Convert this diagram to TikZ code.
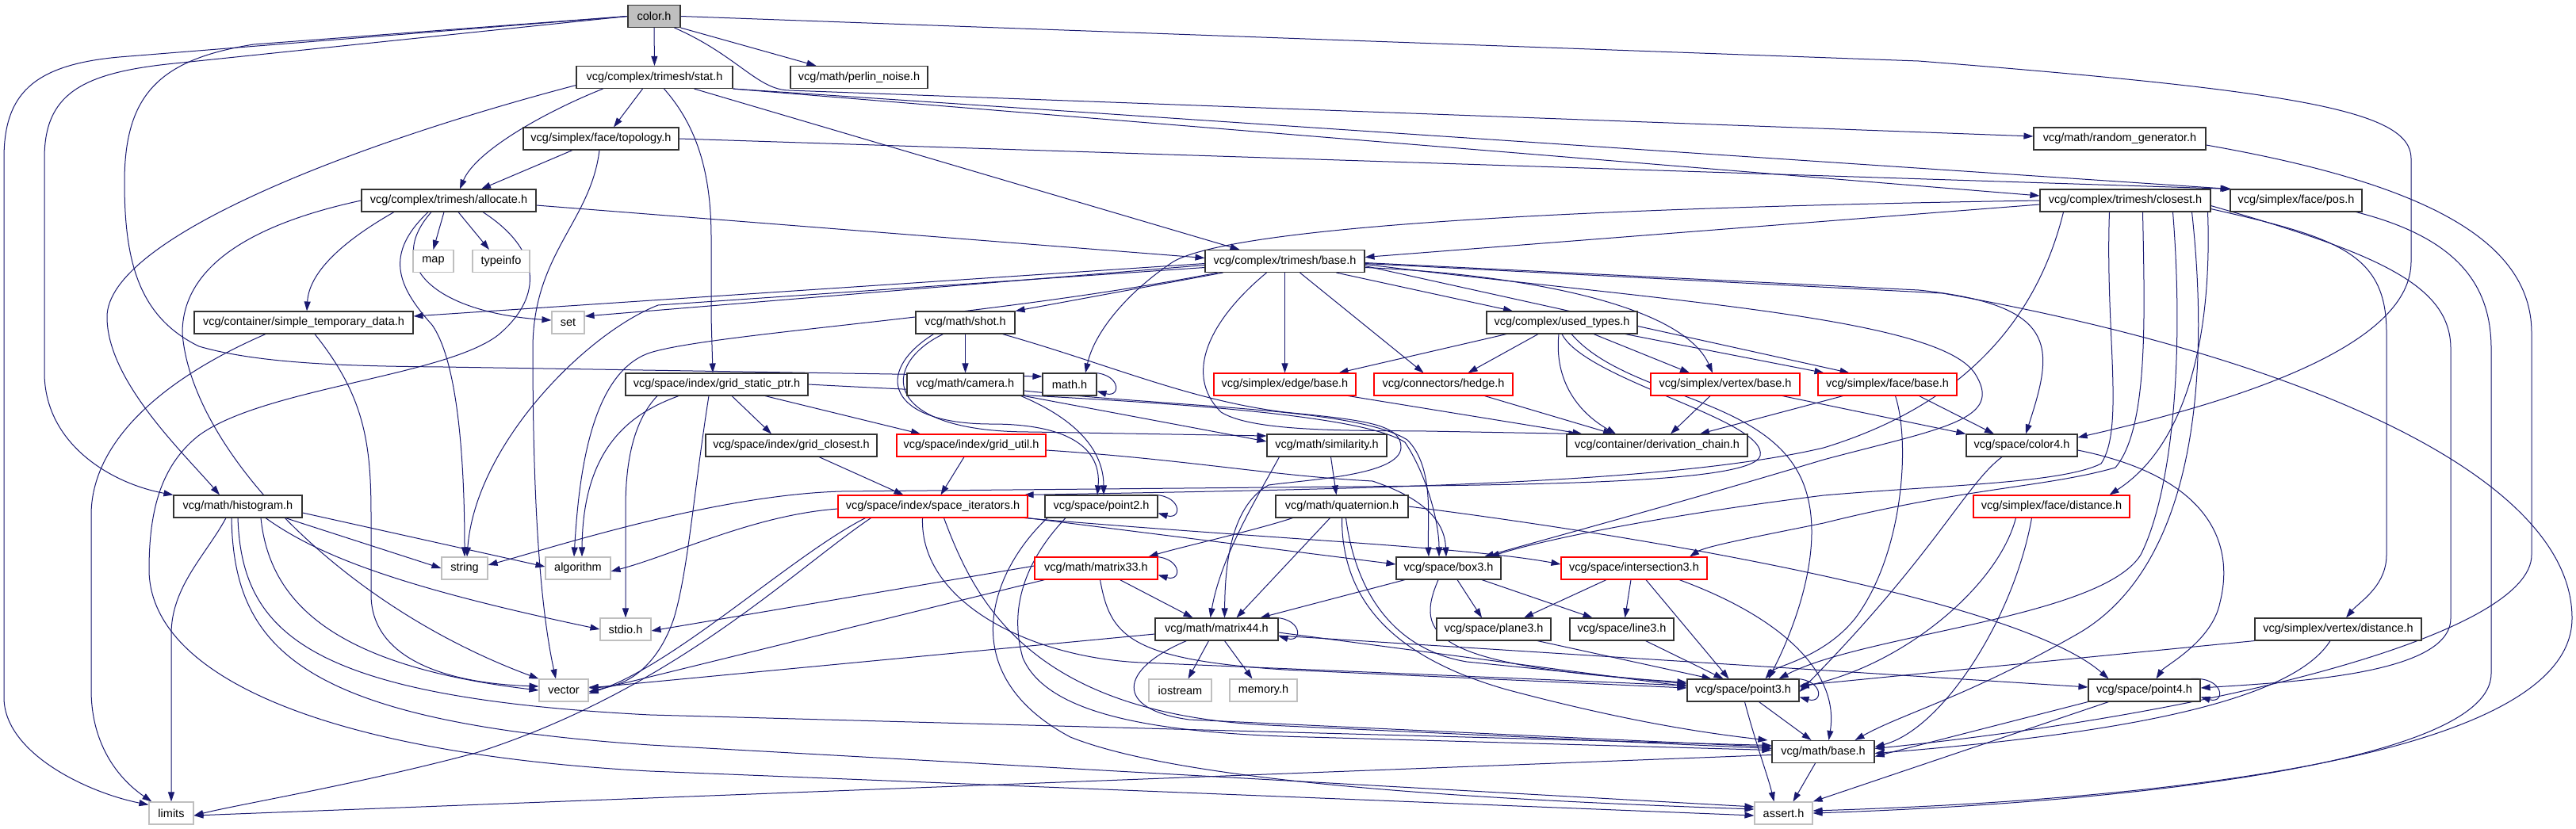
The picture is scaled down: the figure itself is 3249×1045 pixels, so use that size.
\documentclass[tikz,border=0pt]{standalone}
\usepackage{fontspec}
\setmainfont{Liberation Sans}
\usetikzlibrary{arrows.meta}
\definecolor{mblue}{HTML}{191970}
\definecolor{grline}{HTML}{BFBFBF}
\definecolor{grfill}{HTML}{BFBFBF}
\definecolor{bdr}{HTML}{333333}
\newcommand{\dgfont}{\fontsize{14.5}{17}\selectfont}
\pgfdeclarelayer{bglayer}
\pgfdeclarelayer{edgelayer}
\pgfsetlayers{bglayer,edgelayer,main}
\tikzset{
  nd/.style={rectangle, draw=bdr, line width=1.1pt, fill=white, minimum height=28, inner sep=0pt, text=black, font=\dgfont},
  sysn/.style={nd, draw=grline},
  redn/.style={nd, draw=red},
  edg/.style={draw=mblue, line width=1pt, -{Triangle[length=12pt,width=8pt]}},
}
\begin{document}
\begin{tikzpicture}[x=1pt,y=-1pt]
\begin{pgfonlayer}{bglayer}
\fill[white] (0,0) rectangle (3249,1045);
\end{pgfonlayer}
\path[use as bounding box] (0,0) rectangle (3249,1045);
% nodes
\node[nd,fill=grfill,minimum width=66] (color) at (825,20.5) {color.h};
\node[nd,minimum width=197] (stat) at (825.5,97.5) {vcg/complex/trimesh/stat.h};
\node[nd,minimum width=173] (perlin) at (1083.5,97.5) {vcg/math/perlin\_noise.h};
\node[nd,minimum width=196] (topo) at (758,175) {vcg/simplex/face/topology.h};
\node[nd,minimum width=217] (rand) at (2673.5,175) {vcg/math/random\_generator.h};
\node[nd,minimum width=220] (alloc) at (566,253) {vcg/complex/trimesh/allocate.h};
\node[nd,minimum width=215] (closest) at (2680.5,253) {vcg/complex/trimesh/closest.h};
\node[nd,minimum width=166] (pos) at (2896,253) {vcg/simplex/face/pos.h};
\node[sysn,minimum width=51] (map) at (546.5,329.5) {map};
\node[sysn,minimum width=72] (typeinfo) at (632,329.5) {typeinfo};
\node[nd,minimum width=201] (tbase) at (1620.5,329.5) {vcg/complex/trimesh/base.h};
\node[nd,minimum width=276] (std) at (383,407) {vcg/container/simple\_temporary\_data.h};
\node[sysn,minimum width=41] (set) at (716.5,407) {set};
\node[nd,minimum width=125] (shot) at (1217.5,407) {vcg/math/shot.h};
\node[nd,minimum width=190] (used) at (1970,407) {vcg/complex/used\_types.h};
\node[nd,minimum width=230] (gsp) at (904,485) {vcg/space/index/grid\_static\_ptr.h};
\node[nd,minimum width=147] (camera) at (1217.5,485) {vcg/math/camera.h};
\node[nd,minimum width=68] (mathh) at (1349,485) {math.h};
\node[redn,minimum width=179] (ebase) at (1620.5,485) {vcg/simplex/edge/base.h};
\node[redn,minimum width=175] (hedge) at (1820.5,485) {vcg/connectors/hedge.h};
\node[redn,minimum width=188] (vbase) at (2176,485) {vcg/simplex/vertex/base.h};
\node[redn,minimum width=175] (fbase) at (2380.5,485) {vcg/simplex/face/base.h};
\node[nd,minimum width=216] (gclosest) at (998,562) {vcg/space/index/grid\_closest.h};
\node[redn,minimum width=188] (gutil) at (1225,562) {vcg/space/index/grid\_util.h};
\node[nd,minimum width=151] (sim) at (1673.5,562) {vcg/math/similarity.h};
\node[nd,minimum width=228] (dchain) at (2090,562) {vcg/container/derivation\_chain.h};
\node[nd,minimum width=140] (color4) at (2550,562) {vcg/space/color4.h};
\node[nd,minimum width=162] (hist) at (300,639) {vcg/math/histogram.h};
\node[redn,minimum width=239] (siter) at (1176.5,639) {vcg/space/index/space\_iterators.h};
\node[nd,minimum width=142] (point2) at (1389,639) {vcg/space/point2.h};
\node[nd,minimum width=167] (quat) at (1692.5,639) {vcg/math/quaternion.h};
\node[redn,minimum width=197] (fdist) at (2587.5,639) {vcg/simplex/face/distance.h};
\node[sysn,minimum width=58] (string) at (586,717) {string};
\node[sysn,minimum width=82] (algorithm) at (729,717) {algorithm};
\node[redn,minimum width=155] (m33) at (1382.5,717) {vcg/math/matrix33.h};
\node[nd,minimum width=132] (box3) at (1827,717) {vcg/space/box3.h};
\node[redn,minimum width=184] (inter3) at (2061,717) {vcg/space/intersection3.h};
\node[sysn,minimum width=64] (stdio) at (789,794) {stdio.h};
\node[nd,minimum width=155] (m44) at (1534.5,794) {vcg/math/matrix44.h};
\node[nd,minimum width=144] (plane3) at (1884,794) {vcg/space/plane3.h};
\node[nd,minimum width=131] (line3) at (2045.5,794) {vcg/space/line3.h};
\node[nd,minimum width=210] (vdist) at (2949,794) {vcg/simplex/vertex/distance.h};
\node[sysn,minimum width=62] (vector) at (711,871) {vector};
\node[sysn,minimum width=79] (iostream) at (1488.5,871) {iostream};
\node[sysn,minimum width=85] (memory) at (1593.5,871) {memory.h};
\node[nd,minimum width=141] (point3) at (2198.5,871) {vcg/space/point3.h};
\node[nd,minimum width=141] (point4) at (2704.5,871) {vcg/space/point4.h};
\node[nd,minimum width=129] (mbase) at (2299.5,948.5) {vcg/math/base.h};
\node[sysn,minimum width=56] (limits) at (216,1026) {limits};
\node[sysn,minimum width=73] (assert) at (2249.5,1026) {assert.h};

\begin{pgfonlayer}{edgelayer}
% color.h
\draw[edg] (color.south) -- (stat.north);
\draw[edg] (color.south east) -- ([xshift=33]perlin.north west);
\draw[edg] ([xshift=-8]color.south east) .. controls (930,70) and (955,113) .. (995,114) -- ([yshift=3]rand.west);
\draw[edg] (color.east) -- (2420,77) .. controls (2900,115) and (3041,140) .. (3041,200) -- (3041,330) .. controls (3041,430) and (2850,500) .. ([yshift=10]color4.east);
\draw[edg] (color.west) -- (150,72) .. controls (40,82) and (5,120) .. (5,200) -- (5,880) .. controls (5,950) and (110,1000) .. ([yshift=-4]limits.north west);
\draw[edg] (color.west) -- (220,80) .. controls (100,92) and (56,120) .. (56,200) -- (56,470) .. controls (56,560) and (140,610) .. (hist.north west);
\draw[edg] (color.west) -- (320,56) .. controls (200,75) and (157,120) .. (157,230) .. controls (157,330) and (175,400) .. (251,437) .. controls (330,460) and (450,462) .. (560,463) -- ([yshift=10]mathh.west);
% stat.h
\draw[edg] ([xshift=-15]stat.south) -- ([xshift=16]topo.north);
\draw[edg] ([xshift=-65]stat.south) .. controls (690,140) and (600,190) .. ([xshift=14]alloc.north);
\draw[edg] ([yshift=-10]stat.west) .. controls (450,180) and (135,300) .. (135,400) .. controls (135,480) and (230,570) .. ([xshift=-23]hist.north);
\draw[edg] ([xshift=12]stat.south) .. controls (880,160) and (897,220) .. (897,300) -- (897,400) -- ([xshift=-5]gsp.north);
\draw[edg] ([xshift=50]stat.south) -- ([xshift=-57]tbase.north);
\draw[edg] (stat.south east) -- ([yshift=6]closest.west);
\draw[edg] (stat.south east) -- (pos.north west);
% topology.h
\draw[edg] ([xshift=-36]topo.south) -- ([xshift=41]alloc.north);
\draw[edg] (topo.east) -- ([xshift=2]pos.north west);
\draw[edg] ([xshift=-2]topo.south) .. controls (745,280) and (672,320) .. (672,440) .. controls (672,620) and (680,760) .. ([xshift=-10]vector.north);
% allocate.h
\draw[edg] ([xshift=-6]alloc.south) -- (map.north);
\draw[edg] ([xshift=12]alloc.south) -- ([xshift=-15]typeinfo.north);
\draw[edg] ([yshift=-6]alloc.east) -- ([yshift=4]tbase.west);
\draw[edg] ([xshift=-69]alloc.south) .. controls (440,300) and (390,340) .. ([xshift=4]std.north);
\draw[edg] ([xshift=-22]alloc.south) .. controls (480,340) and (560,395) .. ([yshift=3]set.west);
\draw[edg] ([xshift=-26]alloc.south) .. controls (485,320) and (500,360) .. (545,410) .. controls (580,460) and (586,600) .. (string.north);
\draw[edg] (alloc.west) .. controls (330,280) and (230,330) .. (230,420) .. controls (240,560) and (420,760) .. (vector.north west);
\draw[edg] ([xshift=43]alloc.south) .. controls (690,320) and (680,380) .. (628,423) .. controls (560,475) and (330,490) .. (250,550) .. controls (200,590) and (188,650) .. (188,720) .. controls (190,850) and (400,950) .. (820,973) -- ([yshift=-3]assert.west);
% simple_temporary_data.h
\draw[edg] ([xshift=-48]std.south) .. controls (200,480) and (115,560) .. (115,650) -- (115,870) .. controls (115,950) and (160,990) .. ([xshift=4]limits.north west);
\draw[edg] ([xshift=14]std.south) .. controls (460,500) and (468,560) .. (468,650) -- (468,750) .. controls (468,830) and (560,862) .. ([yshift=5]vector.west);
% trimesh/base.h
\draw[edg] ([yshift=-3]tbase.west) -- ([yshift=8]std.east);
\draw[edg] ([yshift=-5]tbase.west) -- ([yshift=8]set.east);
\draw[edg] ([yshift=-8]tbase.west) -- (830,385) .. controls (740,420) and (600,560) .. ([xshift=3]string.north);
\draw[edg] ([xshift=-85]tbase.south) .. controls (1250,400) and (900,420) .. (820,445) .. controls (745,470) and (730,600) .. ([xshift=-5]algorithm.north);
\draw[edg] ([xshift=23]tbase.south west) -- (shot.north east);
\draw[edg] ([xshift=65]tbase.south) -- ([xshift=-62]used.north);
\draw[edg] (tbase.south) -- (ebase.north);
\draw[edg] ([xshift=19]tbase.south) -- ([xshift=-25]hedge.north);
\draw[edg] ([yshift=-8]tbase.east) .. controls (1900,345) and (2120,380) .. ([xshift=-16]vbase.north);
\draw[edg] ([yshift=-6]tbase.east) -- ([xshift=-48]fbase.north);
\draw[edg] ([yshift=-2]tbase.east) -- (2420,366) .. controls (2600,385) and (2590,440) .. ([xshift=5]color4.north);
\draw[edg] ([yshift=-3]tbase.east) -- (2450,370) .. controls (2900,450) and (3244,600) .. (3244,780) .. controls (3244,960) and (2700,1010) .. ([yshift=3]assert.east);
\draw[edg] ([yshift=-4]tbase.east) .. controls (2100,380) and (2440,400) .. (2490,470) .. controls (2530,530) and (2450,540) .. (2300,580) .. controls (2100,640) and (1950,680) .. ([xshift=45]box3.north);
\draw[edg] ([xshift=-23]tbase.south) .. controls (1530,400) and (1490,470) .. (1540,520) .. controls (1580,545) and (1700,543) .. (1800,544) -- ([xshift=15]dchain.north west);
% shot.h
\draw[edg] (shot.south) -- (camera.north);
\draw[edg] ([xshift=-40]shot.south) .. controls (1100,470) and (1120,535) .. (1250,535) .. controls (1370,535) and (1388,580) .. ([xshift=-5]point2.north);
\draw[edg] ([xshift=-28]shot.south) .. controls (1110,460) and (1110,545) .. (1300,545) -- ([yshift=12]sim.west);
\draw[edg] ([xshift=47]shot.south) .. controls (1400,460) and (1500,505) .. (1620,520) .. controls (1720,530) and (1768,535) .. (1767,565) .. controls (1765,600) and (1650,605) .. (1600,612) .. controls (1550,640) and (1545,720) .. ([xshift=10]m44.north);
% camera.h
\draw[edg] ([xshift=70]camera.south) .. controls (1360,530) and (1392,570) .. ([xshift=3]point2.north);
\draw[edg] (camera.south east) -- ([yshift=5]sim.west);
\draw[edg] ([yshift=-8]camera.east) .. controls (1500,515) and (1710,515) .. (1775,555) .. controls (1810,590) and (1800,660) .. ([xshift=-25]box3.north);
% grid_static_ptr.h
\draw[edg] ([xshift=19]gsp.south) -- ([xshift=-25]gclosest.north);
\draw[edg] ([xshift=61]gsp.south) -- ([xshift=-64]gutil.north);
\draw[edg] ([xshift=-48]gsp.south) .. controls (800,520) and (735,560) .. ([xshift=5]algorithm.north);
\draw[edg] ([xshift=-75]gsp.south) .. controls (800,530) and (789,580) .. (789,640) -- (stdio.north);
\draw[edg] ([xshift=-10]gsp.south) .. controls (875,620) and (868,720) .. (850,780) .. controls (830,840) and (790,868) .. ([yshift=4]vector.east);
\draw[edg] (gsp.east) .. controls (1300,500) and (1700,512) .. (1772,558) .. controls (1800,600) and (1815,660) .. ([xshift=-12]box3.north);
% grid_closest / grid_util
\draw[edg] ([xshift=35]gclosest.south) -- ([xshift=-37]siter.north);
\draw[edg] ([xshift=-9]gutil.south) -- ([xshift=10]siter.north);
\draw[edg] ([yshift=-6]gutil.east) .. controls (1500,580) and (1600,600) .. (1731,607) .. controls (1800,630) and (1822,660) .. ([xshift=-3]box3.north);
% similarity.h
\draw[edg] ([xshift=5]sim.south) -- ([xshift=-7]quat.north);
\draw[edg] ([xshift=-60]sim.south) .. controls (1590,620) and (1540,700) .. ([xshift=-8]m44.north);
% space_iterators.h
\draw[edg] ([xshift=-85]siter.south) .. controls (1000,700) and (850,840) .. ([yshift=-4]vector.east);
\draw[edg] ([xshift=-78]siter.south) .. controls (1000,720) and (850,870) .. (600,950) .. controls (450,990) and (300,1015) .. ([yshift=-3]limits.east);
\draw[edg] ([yshift=-3]siter.west) .. controls (950,650) and (850,700) .. ([yshift=-4]algorithm.east);
\draw[edg] (siter.south east) -- ([yshift=5]box3.west);
\draw[edg] ([xshift=-5]siter.south east) .. controls (1600,680) and (1850,690) .. ([yshift=5]inter3.west);
\draw[edg] ([xshift=-13]siter.south) .. controls (1160,760) and (1300,830) .. (1440,836) -- ([yshift=6]point3.west);
\draw[edg] ([xshift=14]siter.south) .. controls (1230,760) and (1300,900) .. (1600,915) -- ([yshift=4]mbase.west);
% point2.h
\draw[edg] ([xshift=-12]point2.north east) .. controls ([xshift=30,yshift=3]point2.north east) and ([xshift=32,yshift=-3]point2.south east) .. ([yshift=6]point2.south east);
\draw[edg] ([xshift=-45]point2.south) .. controls (1300,700) and (1270,760) .. (1290,830) .. controls (1320,900) and (1450,925) .. (1650,930) -- ([yshift=2]mbase.west);
\draw[edg] ([xshift=-68]point2.south) .. controls (1250,720) and (1200,850) .. (1350,930) .. controls (1500,990) and (1900,1010) .. ([yshift=5]assert.west);
% quaternion.h
\draw[edg] ([xshift=-62]quat.south) .. controls (1580,670) and (1490,690) .. ([xshift=-12]m33.north east);
\draw[edg] ([xshift=-15]quat.south) -- ([xshift=25]m44.north);
\draw[edg] (quat.south) .. controls (1692,760) and (1760,830) .. (1900,870) .. controls (2050,910) and (2150,925) .. ([xshift=-5]mbase.north west);
\draw[edg] ([xshift=5]quat.south) .. controls (1710,750) and (1760,820) .. (1850,835) -- ([yshift=8]point3.west);
\draw[edg] (quat.east) .. controls (2100,680) and (2550,760) .. ([xshift=-45]point4.north);
% face/distance.h
\draw[edg] ([xshift=-45]fdist.south) .. controls (2520,740) and (2400,840) .. ([yshift=4]point3.east);
\draw[edg] ([xshift=-25]fdist.south) .. controls (2540,780) and (2450,920) .. ([yshift=6]mbase.east);
% matrix33.h
\draw[edg] ([xshift=-12]m33.north east) .. controls ([xshift=30,yshift=3]m33.north east) and ([xshift=32,yshift=-3]m33.south east) .. ([yshift=6]m33.south east);
\draw[edg] ([yshift=3]m33.west) -- ([yshift=-2]stdio.east);
\draw[edg] ([xshift=-65]m33.south) -- ([yshift=-2]vector.east);
\draw[edg] ([xshift=30]m33.south) -- ([xshift=-30]m44.north);
\draw[edg] ([xshift=5]m33.south) .. controls (1400,800) and (1420,832) .. (1620,845) -- ([yshift=3]point3.west);
% box3.h
\draw[edg] ([xshift=-55]box3.south) -- ([xshift=55]m44.north);
\draw[edg] ([xshift=-13]box3.south) .. controls (1785,800) and (1800,840) .. ([yshift=10]point3.west);
\draw[edg] ([xshift=11]box3.south) -- ([xshift=-15]plane3.north);
\draw[edg] ([xshift=42]box3.south) -- ([xshift=-37]line3.north);
% intersection3.h
\draw[edg] ([xshift=-35]inter3.south) -- ([xshift=38]plane3.north);
\draw[edg] ([xshift=-4]inter3.south) -- ([xshift=4]line3.north);
\draw[edg] ([xshift=15]inter3.south) -- ([xshift=-18]point3.north);
\draw[edg] ([xshift=57]inter3.south) .. controls (2250,780) and (2320,850) .. ([xshift=7]mbase.north);
% matrix44.h
\draw[edg] ([xshift=-12]m44.north east) .. controls ([xshift=30,yshift=3]m44.north east) and ([xshift=32,yshift=-3]m44.south east) .. ([yshift=6]m44.south east);
\draw[edg] ([yshift=-6]m44.west) -- ([yshift=3]vector.east);
\draw[edg] ([xshift=-10]m44.south) -- ([xshift=10]iostream.north);
\draw[edg] ([xshift=10]m44.south) -- ([xshift=-14]memory.north);
\draw[edg] ([xshift=-38]m44.south) .. controls (1410,845) and (1405,895) .. (1500,908) -- ([yshift=6]mbase.west);
\draw[edg] ([yshift=-4]m44.east) -- ([yshift=5]point3.west);
\draw[edg] ([yshift=-8]m44.east) -- ([yshift=4]point4.west);
% plane3, line3
\draw[edg] ([xshift=55]plane3.south) -- ([xshift=-40]point3.north);
\draw[edg] ([xshift=30]line3.south) -- ([xshift=-25]point3.north);
% vertex/distance.h
\draw[edg] (vdist.south west) -- ([yshift=6]point3.east);
\draw[edg] ([xshift=-10]vdist.south) .. controls (2900,870) and (2750,920) .. ([yshift=-2]mbase.east);
% point3.h
\draw[edg] ([xshift=-12]point3.north east) .. controls ([xshift=30,yshift=3]point3.north east) and ([xshift=32,yshift=-3]point3.south east) .. ([yshift=6]point3.south east);
\draw[edg] ([xshift=20]point3.south) -- ([xshift=-15]mbase.north);
\draw[edg] ([xshift=2]point3.south) .. controls (2215,940) and (2230,980) .. ([xshift=-12]assert.north);
% point4.h
\draw[edg] ([xshift=-12]point4.north east) .. controls ([xshift=30,yshift=3]point4.north east) and ([xshift=32,yshift=-3]point4.south east) .. ([yshift=6]point4.south east);
\draw[edg] (point4.south west) -- ([yshift=-6]mbase.east);
\draw[edg] ([xshift=-45]point4.south) -- (assert.north east);
% math/base.h
\draw[edg] ([xshift=-10]mbase.south) -- ([xshift=12]assert.north);
\draw[edg] ([yshift=-4]mbase.west) -- ([yshift=-3]limits.east);
% math.h
\draw[edg] ([xshift=-12]mathh.north east) .. controls ([xshift=30,yshift=3]mathh.north east) and ([xshift=32,yshift=-3]mathh.south east) .. ([yshift=6]mathh.south east);
% histogram.h
\draw[edg] ([xshift=-15]hist.south) .. controls (260,700) and (216,740) .. (216,800) -- (limits.north);
\draw[edg] ([xshift=29]hist.south) .. controls (340,760) and (420,840) .. (vector.west);
\draw[edg] ([xshift=35]hist.south) .. controls (400,700) and (500,740) .. (stdio.west);
\draw[edg] ([xshift=60]hist.south) -- (string.west);
\draw[edg] ([yshift=-8]hist.east) -- ([yshift=2]algorithm.west);
\draw[edg] (hist.south) .. controls (305,800) and (390,880) .. (820,902) -- ([yshift=8]mbase.west);
\draw[edg] ([xshift=-8]hist.south) .. controls (295,820) and (380,910) .. (820,940) -- ([yshift=8]assert.west);
% closest.h
\draw[edg] (closest.west) .. controls (2000,262) and (1560,285) .. (1480,330) .. controls (1420,370) and (1380,420) .. ([xshift=20]mathh.north);
\draw[edg] ([yshift=-5]closest.west) -- ([yshift=5]tbase.east);
\draw[edg] ([xshift=-78]closest.south) .. controls (2570,400) and (2480,510) .. (2300,565) .. controls (2100,612) and (1700,617) .. ([xshift=-5]siter.north east);
\draw[edg] ([xshift=-20]closest.south) .. controls (2655,420) and (2680,540) .. (2650,585) .. controls (2600,610) and (2450,612) .. (2300,625) .. controls (2100,650) and (1950,680) .. ([xshift=52]box3.north);
\draw[edg] ([xshift=22]closest.south) .. controls (2705,400) and (2710,540) .. (2668,590) .. controls (2580,615) and (2480,615) .. (2300,660) .. controls (2200,680) and (2150,690) .. ([xshift=70]inter3.north);
\draw[edg] ([xshift=60]closest.south) .. controls (2755,450) and (2740,620) .. (2700,700) .. controls (2650,780) and (2350,800) .. ([xshift=45]point3.north);
\draw[edg] ([xshift=84]closest.south) .. controls (2790,500) and (2760,720) .. (2620,800) .. controls (2480,880) and (2400,900) .. ([xshift=40]mbase.north);
\draw[edg] ([xshift=104]closest.south) .. controls (2790,420) and (2760,560) .. ([xshift=73]fdist.north);
\draw[edg] ([yshift=4]closest.south east) .. controls (2950,300) and (3010,320) .. (3010,420) -- (3010,700) .. controls (3010,740) and (2975,760) .. ([xshift=10]vdist.north);
\draw[edg] ([yshift=8]closest.south east) .. controls (3000,320) and (3091,360) .. (3091,440) -- (3091,780) .. controls (3091,850) and (2900,860) .. ([yshift=3]point4.east);
% pos.h, random_generator.h
\draw[edg] ([xshift=-8]pos.south east) .. controls (3100,300) and (3142,360) .. (3142,440) -- (3142,850) .. controls (3142,960) and (2700,1012) .. (assert.east);
\draw[edg] ([yshift=-8]rand.east) .. controls (3050,230) and (3193,300) .. (3193,420) -- (3193,700) .. controls (3193,800) and (2800,900) .. ([yshift=4]mbase.east);
% color4.h
\draw[edg] ([yshift=-6]color4.east) .. controls (2780,600) and (2820,680) .. (2800,760) .. controls (2790,810) and (2730,840) .. ([xshift=15]point4.north);
\draw[edg] ([xshift=-25]color4.south) .. controls (2480,610) and (2440,700) .. ([yshift=-2]point3.east);
% simplex / connectors / used_types
\draw[edg] ([xshift=-10]ebase.south east) -- ([xshift=20]dchain.north west);
\draw[edg] ([xshift=52]hedge.south) -- ([xshift=-56]dchain.north);
\draw[edg] ([xshift=-4]used.south) .. controls (1960,480) and (1990,520) .. ([xshift=-52]dchain.north);
\draw[edg] ([xshift=-19]vbase.south) -- ([xshift=17]dchain.north);
\draw[edg] ([xshift=-56]fbase.south) -- ([xshift=54]dchain.north);
\draw[edg] ([xshift=72]vbase.south) -- (color4.north west);
\draw[edg] ([xshift=40]fbase.south) -- ([xshift=-35]color4.north);
\draw[edg] ([xshift=10]fbase.south) .. controls (2410,560) and (2400,700) .. (2340,780) .. controls (2300,830) and (2240,840) .. ([xshift=28]point3.north);
\draw[edg] ([xshift=-70]used.south) -- ([xshift=68]ebase.north);
\draw[edg] ([xshift=-30]used.south) -- ([xshift=31]hedge.north);
\draw[edg] ([xshift=40]used.south) -- ([xshift=-45]vbase.north);
\draw[edg] ([xshift=80]used.south) -- ([xshift=-80]fbase.north);
\draw[edg] ([xshift=12]used.south) .. controls (2050,500) and (2220,500) .. (2270,600) .. controls (2310,680) and (2260,800) .. ([xshift=32]point3.north);
\draw[edg] (used.south) .. controls (2000,480) and (2230,530) .. (2220,575) .. controls (2210,612) and (1900,612) .. (1600,615) -- (1060,620) .. controls (900,625) and (700,690) .. ([yshift=4]string.east);
\end{pgfonlayer}
\end{tikzpicture}
\end{document}
